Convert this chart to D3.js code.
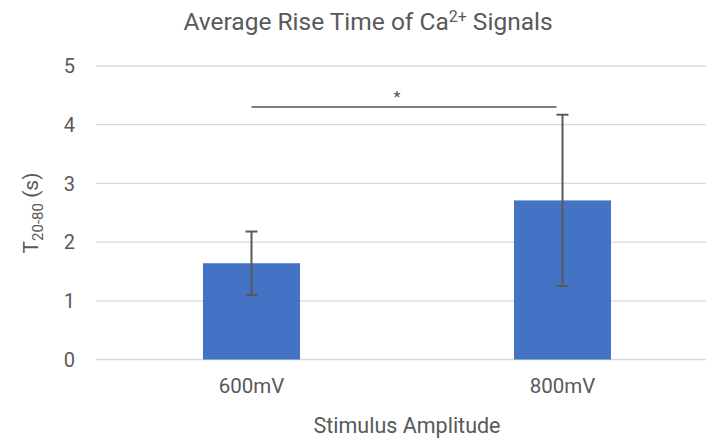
<!DOCTYPE html>
<html>
<head>
<meta charset="utf-8">
<script src="https://cdn.jsdelivr.net/npm/d3@7"></script>
<style>
  html, body { margin: 0; padding: 0; background: #fff; }
  svg { display: block; font-family: Roboto, "Open Sans", sans-serif; }
</style>
</head>
<body>
<svg id="chart" width="706" height="440"></svg>
<script>
// Stimulus amplitudes and their mean 20–80% rise times (s) with error bars
const categories = ["600mV", "800mV"];
const means = [1.64, 2.71];
const errors = [0.54, 1.46];
const yTicks = [0, 1, 2, 3, 4, 5];
// Significance bracket between the two groups
const sigPair = ["600mV", "800mV"];
const sigLevel = 4.3;
const sigLabel = "*";

const svg = d3.select("#chart");
const textColor = "#595959";

const x = d3.scaleBand().domain(categories).range([96, 718]).padding(0);
const barW = x.bandwidth() * 0.312;
const y = d3.scaleLinear().domain([0, 5]).range([359.5, 66]);

// Gridlines
svg.append("g")
  .selectAll("line")
  .data(yTicks)
  .join("line")
  .attr("x1", 96).attr("x2", 706)
  .attr("y1", d => y(d)).attr("y2", d => y(d))
  .attr("stroke", "#d9d9d9")
  .attr("stroke-width", 1.3);

// Y tick labels
svg.append("g")
  .selectAll("text")
  .data(yTicks)
  .join("text")
  .attr("x", 75)
  .attr("y", d => y(d))
  .attr("dy", "0.36em")
  .attr("text-anchor", "end")
  .attr("font-size", 20)
  .attr("fill", textColor)
  .text(d => d);

// Bars
const cx = c => x(c) + x.bandwidth() / 2;
svg.append("g")
  .selectAll("rect")
  .data(categories)
  .join("rect")
  .attr("x", d => cx(d) - barW / 2)
  .attr("width", barW)
  .attr("y", (d, i) => y(means[i]))
  .attr("height", (d, i) => y(0) - y(means[i]))
  .attr("fill", "#4472c4");

// Error bars
const capW = 12;
const eb = svg.append("g").attr("stroke", "#595959").attr("stroke-width", 2);
categories.forEach((c, i) => {
  const top = y(means[i] + errors[i]);
  const bot = y(means[i] - errors[i]);
  eb.append("line").attr("x1", cx(c)).attr("x2", cx(c)).attr("y1", top).attr("y2", bot);
  eb.append("line").attr("x1", cx(c) - capW / 2).attr("x2", cx(c) + capW / 2).attr("y1", top).attr("y2", top);
  eb.append("line").attr("x1", cx(c) - capW / 2).attr("x2", cx(c) + capW / 2).attr("y1", bot).attr("y2", bot);
});

// Significance line and marker
const sx1 = cx(sigPair[0]);
const sx2 = cx(sigPair[1]) - capW / 2;
svg.append("line")
  .attr("x1", sx1).attr("x2", sx2)
  .attr("y1", y(sigLevel)).attr("y2", y(sigLevel))
  .attr("stroke", "#7f7f7f").attr("stroke-width", 2);
svg.append("text")
  .attr("x", (sx1 + sx2) / 2 - 7)
  .attr("y", y(sigLevel) - 5)
  .attr("text-anchor", "middle")
  .attr("font-size", 15)
  .attr("font-weight", "bold")
  .attr("fill", textColor)
  .text(sigLabel);

// X category labels
svg.append("g")
  .selectAll("text")
  .data(categories)
  .join("text")
  .attr("x", d => cx(d))
  .attr("y", 393)
  .attr("text-anchor", "middle")
  .attr("font-size", 20.5)
  .attr("fill", textColor)
  .text(d => d);

// Axis titles
svg.append("text")
  .attr("x", 407).attr("y", 433)
  .attr("text-anchor", "middle")
  .attr("font-size", 21.5)
  .attr("fill", textColor)
  .text("Stimulus Amplitude");

const yt = svg.append("text")
  .attr("transform", "translate(38,213) rotate(-90)")
  .attr("text-anchor", "middle")
  .attr("font-size", 21)
  .attr("fill", textColor);
yt.append("tspan").text("T");
yt.append("tspan").attr("font-size", 15).attr("dy", 5).text("20-80");
yt.append("tspan").attr("dy", -5).text(" (s)");

// Chart title
const title = svg.append("text")
  .attr("x", 368).attr("y", 30)
  .attr("text-anchor", "middle")
  .attr("font-size", 24.5)
  .attr("fill", textColor);
title.append("tspan").text("Average Rise Time of Ca");
title.append("tspan").attr("font-size", 16).attr("dy", -8).text("2+");
title.append("tspan").attr("dy", 8).text(" Signals");
</script>
</body>
</html>
